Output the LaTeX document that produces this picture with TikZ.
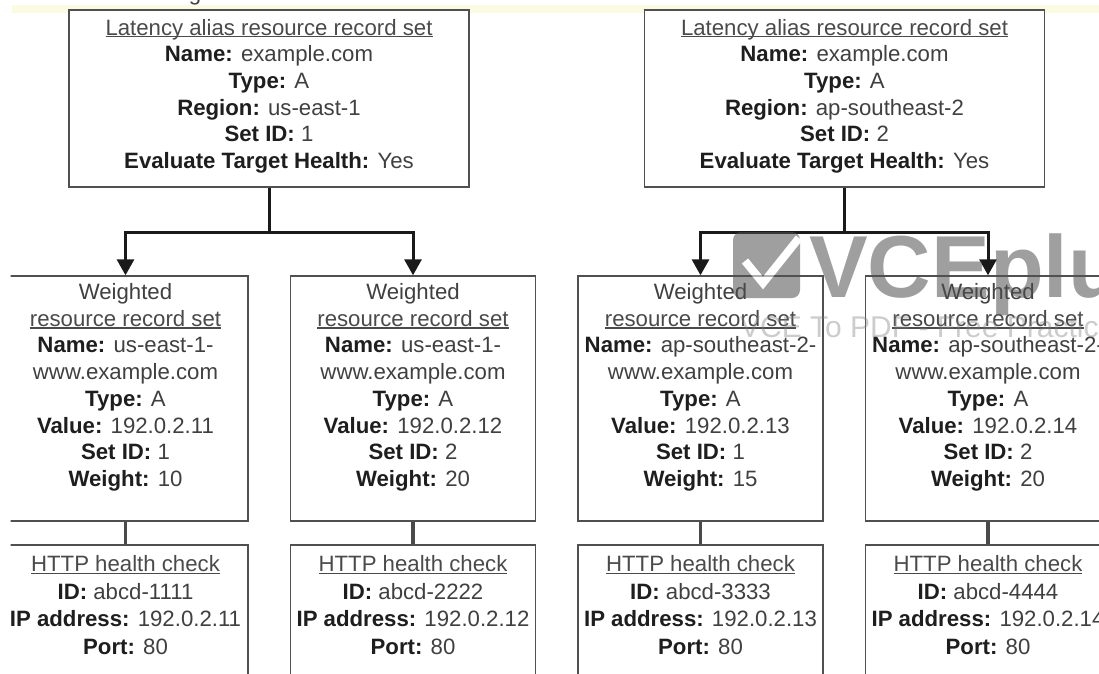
\documentclass[tikz,border=0pt]{standalone}
\usepackage{fontspec}
\setmainfont{Liberation Sans}
\usetikzlibrary{arrows.meta,calc}
\definecolor{lblc}{HTML}{1E1E1E}
\definecolor{valc}{HTML}{404040}
\definecolor{hdrc}{HTML}{4A4A4A}
\definecolor{boxc}{HTML}{505050}
\definecolor{connc}{HTML}{1A1A1A}
\definecolor{stubc}{HTML}{4A4A4A}
\definecolor{bandc}{HTML}{FBFBE4}
\definecolor{wmc}{HTML}{505050}
\definecolor{wmtc}{HTML}{808080}
\newcommand\lbl[1]{{\bfseries\color{lblc}#1}}
\newcommand\myul[1]{{\color{hdrc}\setbox0\hbox{#1}\rlap{\rule[-2.4pt]{\wd0}{1.2pt}}\box0}}
\newcommand\fl{\rule{0pt}{20pt}}
\tikzset{
  box/.style={draw=boxc, line width=1.4pt, fill=white, inner sep=0pt, rectangle},
  topbox/.style={box, minimum width=400, minimum height=177},
  wbox/.style={box, minimum width=245, minimum height=245},
  hbox/.style={box, minimum width=245, minimum height=155},
  txt/.style={anchor=north, inner sep=0pt, align=center, text=valc, font=\fontsize{22.2}{26.7}\selectfont},
  htxt/.style={txt, font=\fontsize{22.2}{27.5}\selectfont},
  conn/.style={draw=connc, line width=3pt},
  stub/.style={draw=stubc, line width=3.4pt},
  tip/.style={-{Triangle[width=17pt,length=16pt]}}
}
\begin{document}
\begin{tikzpicture}[x=1pt,y=-1pt]
\useasboundingbox (0,0) rectangle (1099,673);
\begin{scope}
\clip (10.5,0) rectangle (1099,673);
% top band and cut-off title fragment
\fill[bandc] (12,5) rectangle (1099,13);
\node[anchor=base, inner sep=0pt, text=valc, font=\fontsize{22.2}{26.7}\selectfont] (gfrag) at (195,0) {g};

% top latency boxes
\node[topbox] (t1) at (269,98.5) {};
\node[topbox] (t2) at (844.5,98.5) {};
\node[txt] (t1txt) at ($(t1.north)+(0,5.5)$) {\fl\myul{Latency alias resource record set}\\
  \lbl{Name:} example.com\\ \lbl{Type:} A\\ \lbl{Region:} us-east-1\\ \lbl{Set ID:} 1\\
  \lbl{Evaluate Target Health:} Yes};
\node[txt] (t2txt) at ($(t2.north)+(0,5.5)$) {\fl\myul{Latency alias resource record set}\\
  \lbl{Name:} example.com\\ \lbl{Type:} A\\ \lbl{Region:} ap-southeast-2\\ \lbl{Set ID:} 2\\
  \lbl{Evaluate Target Health:} Yes};

% weighted boxes
\node[wbox] (w1) at (125.5,398.5) {};
\node[wbox] (w2) at (413,398.5) {};
\node[wbox] (w3) at (700.5,398.5) {};
\node[wbox] (w4) at (988,398.5) {};
\node[txt] (w1txt) at ($(w1.north)+(0,4)$) {\fl Weighted\\ \myul{resource record set}\\
  \lbl{Name:} us-east-1-\\ www.example.com\\ \lbl{Type:} A\\ \lbl{Value:} 192.0.2.11\\
  \lbl{Set ID:} 1\\ \lbl{Weight:} 10};
\node[txt] (w2txt) at ($(w2.north)+(0,4)$) {\fl Weighted\\ \myul{resource record set}\\
  \lbl{Name:} us-east-1-\\ www.example.com\\ \lbl{Type:} A\\ \lbl{Value:} 192.0.2.12\\
  \lbl{Set ID:} 2\\ \lbl{Weight:} 20};
\node[txt] (w3txt) at ($(w3.north)+(0,4)$) {\fl Weighted\\ \myul{resource record set}\\
  \lbl{Name:} ap-southeast-2-\\ www.example.com\\ \lbl{Type:} A\\ \lbl{Value:} 192.0.2.13\\
  \lbl{Set ID:} 1\\ \lbl{Weight:} 15};
\node[txt] (w4txt) at ($(w4.north)+(0,4)$) {\fl Weighted\\ \myul{resource record set}\\
  \lbl{Name:} ap-southeast-2-\\ www.example.com\\ \lbl{Type:} A\\ \lbl{Value:} 192.0.2.14\\
  \lbl{Set ID:} 2\\ \lbl{Weight:} 20};

% health check boxes
\node[hbox] (h1) at (125.5,622.5) {};
\node[hbox] (h2) at (413,622.5) {};
\node[hbox] (h3) at (700.5,622.5) {};
\node[hbox] (h4) at (988,622.5) {};
\node[htxt] (h1txt) at ($(h1.north)+(0,7)$) {\fl\myul{HTTP health check}\\
  \lbl{ID:} abcd-1111\\ \lbl{IP address:} 192.0.2.11\\ \lbl{Port:} 80};
\node[htxt] (h2txt) at ($(h2.north)+(0,7)$) {\fl\myul{HTTP health check}\\
  \lbl{ID:} abcd-2222\\ \lbl{IP address:} 192.0.2.12\\ \lbl{Port:} 80};
\node[htxt] (h3txt) at ($(h3.north)+(0,7)$) {\fl\myul{HTTP health check}\\
  \lbl{ID:} abcd-3333\\ \lbl{IP address:} 192.0.2.13\\ \lbl{Port:} 80};
\node[htxt] (h4txt) at ($(h4.north)+(0,7)$) {\fl\myul{HTTP health check}\\
  \lbl{ID:} abcd-4444\\ \lbl{IP address:} 192.0.2.14\\ \lbl{Port:} 80};

% connectors
\draw[conn] (t1.south) -- ($(t1.south)+(0,45)$) coordinate (j1);
\draw[conn,tip] (j1) -| (w1.north);
\draw[conn,tip] (j1) -| (w2.north);
\draw[conn] (t2.south) -- ($(t2.south)+(0,45)$) coordinate (j2);
\draw[conn,tip] (j2) -| (w3.north);
\draw[conn,tip] (j2) -| (w4.north);
\draw[stub] (w1.south) -- (h1.north);
\draw[stub] (w2.south) -- (h2.north);
\draw[stub] (w3.south) -- (h3.north);
\draw[stub] (w4.south) -- (h4.north);

% watermark
\begin{scope}[transparency group, opacity=0.55]
  \fill[wmc, rounded corners=8pt] (733,232) rectangle (800,298);
  \draw[white, line width=8pt] (745,261) -- (763,283) -- (799,238);
  \node[anchor=base west, inner sep=0pt, text=wmc, font=\bfseries\fontsize{88}{88}\selectfont] (wm) at (809,297) {VCEplus};
\end{scope}
\node[anchor=base west, inner sep=0pt, text=wmtc, opacity=0.4, font=\fontsize{30}{30}\selectfont] (wm2) at (740,337) {VCE To PDF - Free Practice Exam};
\end{scope}
\end{tikzpicture}
\end{document}
